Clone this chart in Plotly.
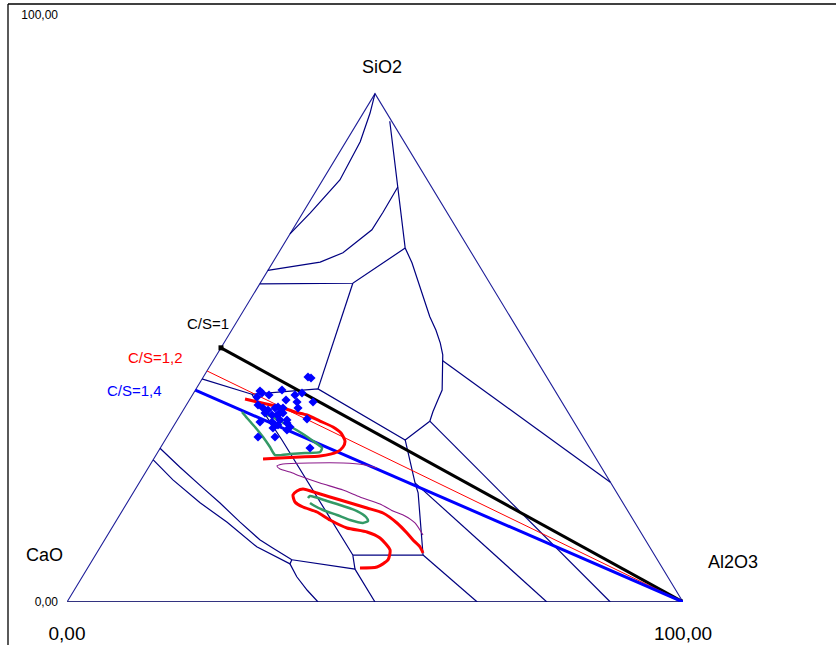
import math
import plotly.graph_objects as go

# ---- CaO–Al2O3–SiO2 diagram, Cartesian projection on a 0–100 scale ----
H = 100 * math.sqrt(3) / 2          # height of the apex (SiO2 corner)

edge_x = [0, 50, 100]
edge_y = [0, H, 0]
base_x = [0, 100]
base_y = [0, 0]

# phase-field boundaries (x, y on the 0–100 chart scale)
b_silica_x = [50.0, 49.2, 47.6, 44.3, 39.5, 36.2]
b_silica_y = [H, 83.3, 78.4, 71.9, 66.3, 62.7]

b_right_x = [52.4, 53.7, 54.9, 56.0, 57.6, 58.9, 59.9, 60.6, 61.0, 61.0, 60.9, 60.2, 59.4, 58.9]
b_right_y = [81.9, 70.7, 60.3, 57.8, 52.6, 48.6, 46.3, 44.1, 42.1, 41.1, 36.1, 34.4, 32.4, 30.8]

b_mullite_x = [61.0, 88.2]
b_mullite_y = [41.1, 20.4]

b_corundum_x = [58.9, 88.2]
b_corundum_y = [30.8, 0.0]

b_wollast_x = [32.6, 41.1, 44.8, 49.5, 51.3, 53.7]
b_wollast_y = [56.5, 57.9, 59.5, 63.4, 66.4, 70.7]

b_anorth_x = [31.3, 46.4, 54.9]
b_anorth_y = [54.2, 54.3, 60.3]

b_anorth_low_x = [46.4, 40.75]
b_anorth_low_y = [54.3, 36.3]

b_gehl_top_x = [21.9, 30.0, 40.75, 54.9, 58.9]
b_gehl_top_y = [38.0, 35.4, 36.3, 27.6, 30.8]

b_gehl_diag_x = [30.0, 34.9, 46.4]
b_gehl_diag_y = [35.4, 27.6, 8.0]

b_gehl_right_x = [54.9, 56.5, 57.0, 57.8]
b_gehl_right_y = [27.6, 20.3, 18.6, 8.0]

b_ca2_x = [56.5, 77.9]
b_ca2_y = [20.3, 0.0]

b_ca_x = [57.8, 66.6]
b_ca_y = [8.0, 0.0]

b_c12a7_x = [46.4, 57.8]
b_c12a7_y = [8.0, 8.0]

b_c12a7_left_x = [46.4, 46.75]
b_c12a7_left_y = [8.0, 5.6]

b_c3a_x = [36.5, 44.8, 46.75, 50.0]
b_c3a_y = [7.2, 6.0, 5.6, 0.0]

b_c3s_x = [36.2, 37.3, 39.0, 40.75]
b_c3s_y = [6.5, 4.3, 2.0, 0.0]

b_c2s_up_x = [15.1, 18.3, 22.1, 24.8, 28.1, 31.3, 33.4, 36.5]
b_c2s_up_y = [26.2, 23.0, 19.4, 16.9, 13.6, 10.6, 9.2, 7.2]

b_c2s_low_x = [14.0, 17.2, 21.6, 26.0, 30.8, 33.4, 36.2, 36.5]
b_c2s_low_y = [24.2, 20.8, 16.9, 13.6, 9.4, 8.0, 6.5, 7.2]

boundaries = [
    (b_silica_x, b_silica_y), (b_right_x, b_right_y), (b_mullite_x, b_mullite_y),
    (b_corundum_x, b_corundum_y), (b_wollast_x, b_wollast_y), (b_anorth_x, b_anorth_y),
    (b_anorth_low_x, b_anorth_low_y), (b_gehl_top_x, b_gehl_top_y),
    (b_gehl_diag_x, b_gehl_diag_y), (b_gehl_right_x, b_gehl_right_y),
    (b_ca2_x, b_ca2_y), (b_ca_x, b_ca_y), (b_c12a7_x, b_c12a7_y),
    (b_c12a7_left_x, b_c12a7_left_y), (b_c3a_x, b_c3a_y), (b_c3s_x, b_c3s_y),
    (b_c2s_up_x, b_c2s_up_y), (b_c2s_low_x, b_c2s_low_y),
]

# ---- CaO/SiO2 ratio lines toward the Al2O3 corner ----
cs_ratios = [1.0, 1.2, 1.4]
cs_labels = ["C/S=1", "C/S=1,2", "C/S=1,4"]
cs_colors = ["#000000", "#FF0000", "#0000FF"]
cs_widths = [3, 1, 3]
cs_label_x = [22.9, 14.3, 11.0]
cs_label_y = [47.4, 41.7, 36.0]

# ---- iso-lines ----
red1_x = [28.9, 31.66, 34.58, 37.01, 38.96, 41.07, 43.18, 44.48, 45.13, 44.81, 43.83, 41.07, 37.82, 34.58, 31.82]
red1_y = [34.58, 33.9, 33.22, 32.37, 31.86, 30.83, 29.81, 28.79, 27.43, 26.41, 25.55, 24.87, 24.7, 24.53, 24.36]

green1_x = [28.41, 29.22, 30.52, 31.82, 32.95, 33.77, 36.2, 38.64, 41.07, 41.4, 39.94, 38.31, 36.69, 34.58, 32.95, 31.82]
green1_y = [32.37, 31.35, 29.81, 28.11, 26.41, 25.04, 25.21, 25.38, 25.55, 26.24, 27.43, 28.62, 29.64, 30.83, 31.69, 32.2]

purple_x = [57.79, 56.49, 54.87, 52.92, 50.81, 47.56, 44.81, 41.07, 37.82, 36.2, 34.58, 34.09, 35.06, 39.45, 44.81, 48.38, 50.32]
purple_y = [11.41, 13.46, 14.65, 15.5, 16.7, 17.89, 19.08, 20.27, 21.47, 22.15, 22.66, 23.17, 23.51, 23.68, 23.68, 23.34, 22.83]

red2_x = [57.79, 57.31, 56.17, 55.19, 53.57, 51.3, 48.7, 45.45, 42.69, 40.58, 38.31, 37.34, 36.69, 37.01,
          38.31, 40.58, 42.69, 45.45, 48.7, 50.81, 52.44, 52.11, 50.32, 47.56]
red2_y = [8.35, 9.37, 10.56, 11.75, 13.46, 15.16, 16.01, 17.04, 17.89, 18.57, 19.25, 18.91, 18.23, 17.04,
          16.18, 15.33, 13.97, 12.61, 11.93, 10.9, 8.86, 7.16, 5.96, 5.79]

green2_x = [39.12, 39.45, 42.21, 44.81, 47.08, 48.54, 48.86, 48.05, 45.94, 43.83, 41.56, 39.94, 39.45]
green2_y = [17.72, 18.06, 17.21, 16.35, 15.5, 14.48, 13.8, 13.46, 13.97, 14.82, 15.67, 16.52, 16.87]

# ---- slag samples ----
sample_x = [39.12, 39.61, 31.33, 31.66, 30.84, 32.79, 34.9, 37.01, 38.15, 35.55, 31.01, 31.82, 32.63,
            33.77, 34.25, 35.06, 37.34, 37.5, 39.94, 32.14, 33.28, 34.09, 34.58, 35.06, 34.58, 35.71,
            38.96, 31.33, 33.28, 33.77, 34.25, 33.44, 35.71, 36.2, 35.71, 31.01, 33.77, 39.45]
sample_y = [38.33, 38.16, 35.95, 35.6, 34.92, 35.26, 36.12, 35.26, 35.6, 34.41, 33.56, 33.05, 32.71,
            33.05, 33.22, 33.05, 34.07, 33.05, 34.07, 32.2, 31.86, 31.86, 32.2, 32.2, 31.01, 31.01,
            31.18, 30.66, 30.66, 30.15, 30.15, 29.64, 30.49, 29.81, 29.3, 28.11, 28.11, 26.24]

# corner labels, placed in paper fractions (two of them sit outside the axis range)
corner_labels = ["SiO2", "CaO", "Al2O3"]
corner_px = [0.457, 0.053, 0.877]
corner_py = [0.896, 0.140, 0.129]

tick_vals = [0, 100]
tick_text = ["0,00", "100,00"]

NAVY = "#000080"
FONT = "Liberation Sans, Arial, sans-serif"

fig = go.Figure()

fig.add_trace(go.Scatter(x=edge_x, y=edge_y, mode="lines",
                         line=dict(color="#1F1F99", width=1.1), hoverinfo="skip"))
fig.add_trace(go.Scatter(x=base_x, y=base_y, mode="lines",
                         line=dict(color="#333380", width=2.2), hoverinfo="skip"))

for bx, by in boundaries:
    fig.add_trace(go.Scatter(x=bx, y=by, mode="lines",
                             line=dict(color=NAVY, width=1.2), hoverinfo="skip"))

for r, col, w in zip(cs_ratios, cs_colors, cs_widths):
    s = 100 / (1 + r)                      # SiO2 on the CaO–SiO2 side
    xs = [s / 2, 100]
    ys = [s * math.sqrt(3) / 2, 0]
    fig.add_trace(go.Scatter(
        x=xs, y=ys, mode="lines+markers" if r == 1.0 else "lines",
        line=dict(color=col, width=w),
        marker=dict(symbol="square", size=5, color="#000000"),
        hoverinfo="skip"))

for cx, cy, col, w in [(purple_x, purple_y, "#8B1A8B", 1.1),
                       (green1_x, green1_y, "#339966", 2.5),
                       (green2_x, green2_y, "#339966", 2.5),
                       (red1_x, red1_y, "#FF0000", 3),
                       (red2_x, red2_y, "#FF0000", 3)]:
    fig.add_trace(go.Scatter(x=cx, y=cy, mode="lines",
                             line=dict(color=col, width=w, shape="spline", smoothing=0.6),
                             hoverinfo="skip"))

fig.add_trace(go.Scatter(x=sample_x, y=sample_y, mode="markers",
                         marker=dict(symbol="diamond", size=7, color="#0000FF"),
                         hoverinfo="skip"))

annotations = []
for t, x, y in zip(corner_labels, corner_px, corner_py):
    annotations.append(dict(x=x, y=y, xref="paper", yref="paper", text=t, showarrow=False,
                            xanchor="center", yanchor="middle",
                            font=dict(family=FONT, size=18, color="#000000")))
for t, x, y, col in zip(cs_labels, cs_label_x, cs_label_y, cs_colors):
    annotations.append(dict(x=x, y=y, xref="x", yref="y", text=t, showarrow=False,
                            font=dict(family=FONT, size=15, color=col)))

W, Hpx = 836, 645
fig.update_layout(
    width=W, height=Hpx, autosize=False,
    margin=dict(l=0, r=0, t=0, b=0, pad=0),
    paper_bgcolor="white", plot_bgcolor="white",
    showlegend=False,
    font=dict(family=FONT, color="#000000"),
    xaxis=dict(range=[0, 100], domain=[67 / W, 683 / W], showgrid=False, zeroline=False,
               showline=False, ticks="", tickvals=tick_vals, ticktext=tick_text,
               tickfont=dict(size=19), ticklabelstandoff=18, fixedrange=True, automargin=False),
    yaxis=dict(range=[0, 100], domain=[(Hpx - 602) / Hpx, (Hpx - 15) / Hpx], showgrid=False,
               zeroline=False, showline=False, ticks="", tickvals=tick_vals, ticktext=tick_text,
               tickfont=dict(size=12), ticklabelstandoff=8, fixedrange=True, automargin=False),
    annotations=annotations,
    shapes=[
        dict(type="line", xref="paper", yref="paper", x0=8 / W, x1=1, y0=1 - 4 / Hpx, y1=1 - 4 / Hpx,
             line=dict(color="#000000", width=1.3)),
        dict(type="line", xref="paper", yref="paper", x0=8 / W, x1=8 / W, y0=0, y1=1 - 4 / Hpx,
             line=dict(color="#000000", width=1.3)),
    ],
)

fig.write_html("out.html")
